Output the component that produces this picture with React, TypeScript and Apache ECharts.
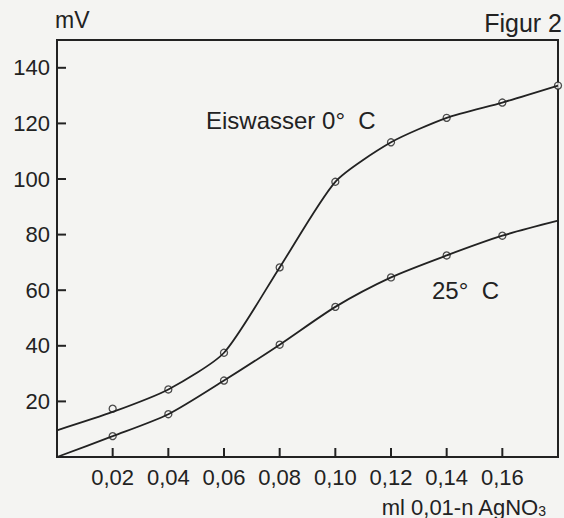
import React, { useEffect, useRef } from "react";
import * as echarts from "echarts";

const xTicks = [0.02, 0.04, 0.06, 0.08, 0.1, 0.12, 0.14, 0.16];
const yTicks = [20, 40, 60, 80, 100, 120, 140];

// smooth curves drawn through the measurements
const eisCurve: [number, number][] = [
  [0, 9.6], [0.02, 16.2], [0.04, 24.3], [0.06, 37.5], [0.08, 68.2],
  [0.1, 99], [0.12, 113.2], [0.14, 122], [0.16, 127.5], [0.18, 133.6],
];
const eisPoints: [number, number][] = [
  [0.02, 17.4], [0.04, 24.3], [0.06, 37.5], [0.08, 68.2],
  [0.1, 99], [0.12, 113.2], [0.14, 122], [0.16, 127.5], [0.18, 133.6],
];
const warmCurve: [number, number][] = [
  [0, 0], [0.02, 7.5], [0.04, 15.4], [0.06, 27.5], [0.08, 40.4],
  [0.1, 54], [0.12, 64.6], [0.14, 72.5], [0.16, 79.6], [0.18, 85],
];
const warmPoints: [number, number][] = [
  [0.02, 7.5], [0.04, 15.4], [0.06, 27.5], [0.08, 40.4],
  [0.1, 54], [0.12, 64.6], [0.14, 72.5], [0.16, 79.6],
];

const INK = "#222222";
const BG = "#f4f4f2";
const FONT = "Liberation Sans, Arial, sans-serif";
const TICK_LEN = 9;

export default function App() {
  const ref = useRef<HTMLDivElement>(null);
  useEffect(() => {
    if (!ref.current) return;
    const chart = echarts.init(ref.current, null, { renderer: "svg" });
    const texts = [
      { type: "text", left: 55, top: 8, style: { text: "mV", font: `23px ${FONT}`, fill: INK } },
      { type: "text", right: 2, top: 10, style: { text: "Figur 2", font: `25px ${FONT}`, fill: INK } },
      { type: "text", left: 206, top: 108, style: { text: "Eiswasser 0°  C", font: `24px ${FONT}`, fill: INK } },
      { type: "text", left: 432, top: 278, style: { text: "25°  C", font: `24px ${FONT}`, fill: INK } },
    ];
    chart.setOption({
      animation: false,
      backgroundColor: BG,
      textStyle: { fontFamily: FONT, color: INK },
      grid: {
        left: 57, right: 6, top: 40, bottom: 58,
        show: true, borderColor: INK, borderWidth: 2, backgroundColor: "transparent",
      },
      xAxis: {
        type: "value", min: 0, max: 0.18,
        axisLine: { show: true, lineStyle: { color: INK, width: 2 } },
        axisTick: { show: false },
        splitLine: { show: false },
        axisLabel: {
          color: INK, fontSize: 22, fontFamily: FONT, margin: 9,
          customValues: xTicks,
          formatter: (v: number) => v.toFixed(2).replace(".", ","),
        },
        name: "{a|ml 0,01-n AgNO}{s|3}",
        nameLocation: "end",
        nameGap: 0,
        nameTextStyle: {
          align: "right", verticalAlign: "top", padding: [37, 12, 0, 0],
          rich: {
            a: { fontSize: 22, fontFamily: FONT, color: INK, verticalAlign: "bottom", lineHeight: 24 },
            s: { fontSize: 14, fontFamily: FONT, color: INK, verticalAlign: "bottom", lineHeight: 20 },
          },
        },
      },
      yAxis: {
        type: "value", min: 0, max: 150,
        axisLine: { show: true, lineStyle: { color: INK, width: 2 } },
        axisTick: { show: false },
        splitLine: { show: false },
        axisLabel: {
          color: INK, fontSize: 22, fontFamily: FONT, margin: 7,
          customValues: yTicks,
        },
      },
      graphic: texts,
      series: [
        {
          type: "line", data: eisCurve, smooth: 0.22, symbol: "none",
          lineStyle: { color: INK, width: 1.8 },
        },
        {
          type: "line", data: warmCurve, smooth: 0.25, symbol: "none",
          lineStyle: { color: INK, width: 1.8 },
        },
        {
          type: "scatter", data: eisPoints, symbol: "circle", symbolSize: 7,
          itemStyle: { color: BG, borderColor: INK, borderWidth: 1.3 },
        },
        {
          type: "scatter", data: warmPoints, symbol: "circle", symbolSize: 7,
          itemStyle: { color: BG, borderColor: INK, borderWidth: 1.3 },
        },
      ],
    });

    // inward tick marks, positioned through the chart's own scales
    const ticks: any[] = [];
    xTicks.forEach((t) => {
      const p = chart.convertToPixel({ gridIndex: 0 }, [t, 0]) as number[];
      ticks.push({
        type: "line", z: 100,
        shape: { x1: p[0], y1: p[1], x2: p[0], y2: p[1] - TICK_LEN },
        style: { stroke: INK, lineWidth: 2 },
      });
    });
    yTicks.forEach((t) => {
      const p = chart.convertToPixel({ gridIndex: 0 }, [0, t]) as number[];
      ticks.push({
        type: "line", z: 100,
        shape: { x1: p[0], y1: p[1], x2: p[0] + TICK_LEN, y2: p[1] },
        style: { stroke: INK, lineWidth: 2 },
      });
    });
    chart.setOption({ graphic: [...texts, ...ticks] }, { replaceMerge: ["graphic"] });

    return () => chart.dispose();
  }, []);
  return (
    <div
      ref={ref}
      style={{ width: 564, height: 518, position: "fixed", left: 0, top: 0 }}
    />
  );
}
